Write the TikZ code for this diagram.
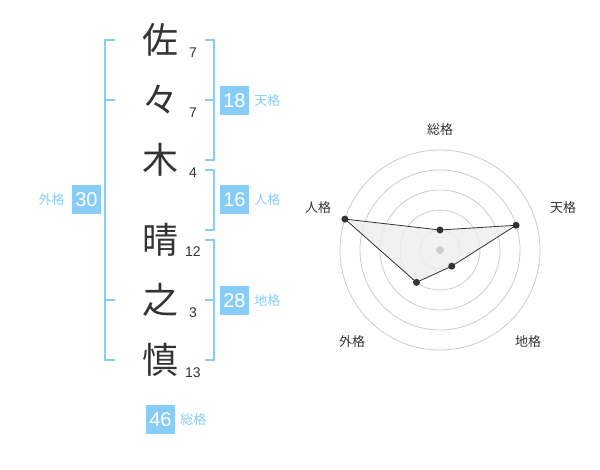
\documentclass[tikz,border=0pt]{standalone}
\usepackage{fontspec}
\setmainfont{Noto Sans CJK JP}
\newfontfamily\digitfont{Liberation Sans}
\usepackage{tikz}
\usetikzlibrary{positioning}
\definecolor{kakublue}{HTML}{88CCF8}
\definecolor{inkgray}{HTML}{333333}
\definecolor{ringgray}{HTML}{CCCCCC}
\definecolor{areagray}{HTML}{EEEEEE}
\tikzset{
  kanji/.style={text=inkgray, font=\fontsize{36}{36}\selectfont, inner sep=0pt},
  strokes/.style={text=inkgray, font=\digitfont\fontsize{14}{14}\selectfont, inner sep=0pt},
  kakubox/.style={fill=kakublue, text=white, minimum size=29pt, inner sep=0pt, font=\digitfont\fontsize{20}{20}\selectfont},
  kakuname/.style={text=kakublue, font=\fontsize{13}{13}\selectfont, inner sep=0pt},
  bracket/.style={draw=kakublue, line width=2pt},
  ring/.style={draw=ringgray, line width=0.8pt},
  dot/.style={circle, fill=inkgray, minimum size=7pt, inner sep=0pt},
  axisname/.style={text=inkgray, font=\fontsize{13}{13}\selectfont, inner sep=0pt},
}
\begin{document}
\begin{tikzpicture}[x=1pt,y=1pt]
\useasboundingbox (0,0) rectangle (600,470);

% name
\node[kanji] (c1) at (160,430) {佐};
\node[kanji] (c2) at (160,370) {々};
\node[kanji] (c3) at (160,310) {木};
\node[kanji] (c4) at (160,230) {晴};
\node[kanji] (c5) at (160,170) {之};
\node[kanji] (c6) at (160,110) {慎};

\node[strokes] (s1) at (193,417) {7};
\node[strokes] (s2) at (193,357) {7};
\node[strokes] (s3) at (193,297) {4};
\node[strokes] (s4) at (193,218) {12};
\node[strokes] (s5) at (193,157) {3};
\node[strokes] (s6) at (193,97) {13};

% brackets
\draw[bracket] (115,430) -- (105,430) -- (105,110) -- (115,110);
\draw[bracket] (105,370) -- (115,370);
\draw[bracket] (105,170) -- (115,170);

\draw[bracket] (205,430) -- (214,430) -- (214,310) -- (205,310);
\draw[bracket] (205,370) -- (214,370);
\draw[bracket] (205,300) -- (214,300) -- (214,240) -- (205,240);
\draw[bracket] (205,230) -- (214,230) -- (214,110) -- (205,110);
\draw[bracket] (205,170) -- (214,170);

% scores
\node[kakubox] (ten) at (234.5,369.5) {18};
\node[kakuname, right=5pt of ten] (tenname) {天格};
\node[kakubox] (jin) at (234.5,270) {16};
\node[kakuname, right=5pt of jin] (jinname) {人格};
\node[kakubox] (chi) at (234.5,169) {28};
\node[kakuname, right=5pt of chi] (chiname) {地格};
\node[kakubox] (gai) at (86.5,270) {30};
\node[kakuname, left=7pt of gai] (gainame) {外格};
\node[kakubox] (sou) at (160.5,50.5) {46};
\node[kakuname, right=5pt of sou] (souname) {総格};

% radar
\begin{scope}[shift={(440,220)}]
\draw[ring] (0,0) circle (20);
\draw[ring] (0,0) circle (40);
\draw[ring] (0,0) circle (60);
\draw[ring] (0,0) circle (80);
\draw[ring] (0,0) circle (100);

\coordinate (psou) at (90:20);
\coordinate (pten) at (18:80);
\coordinate (pchi) at (-54:20);
\coordinate (pgai) at (-126:40);
\coordinate (pjin) at (162:100);

\draw[fill=areagray, fill opacity=0.8, draw=inkgray, line width=0.8pt]
  (psou) -- (pten) -- (pchi) -- (pgai) -- (pjin) -- cycle;
\fill[ringgray] (0,0) circle (4);
\node[dot] at (psou) {};
\node[dot] at (pten) {};
\node[dot] at (pchi) {};
\node[dot] at (pgai) {};
\node[dot] at (pjin) {};

\node[axisname] (lsou) at (0,120) {総格};
\node[axisname] (lten) at (123,42) {天格};
\node[axisname] (ljin) at (-122,42) {人格};
\node[axisname] (lgai) at (-88,-92) {外格};
\node[axisname] (lchi) at (88,-92) {地格};
\end{scope}
\end{tikzpicture}
\end{document}
